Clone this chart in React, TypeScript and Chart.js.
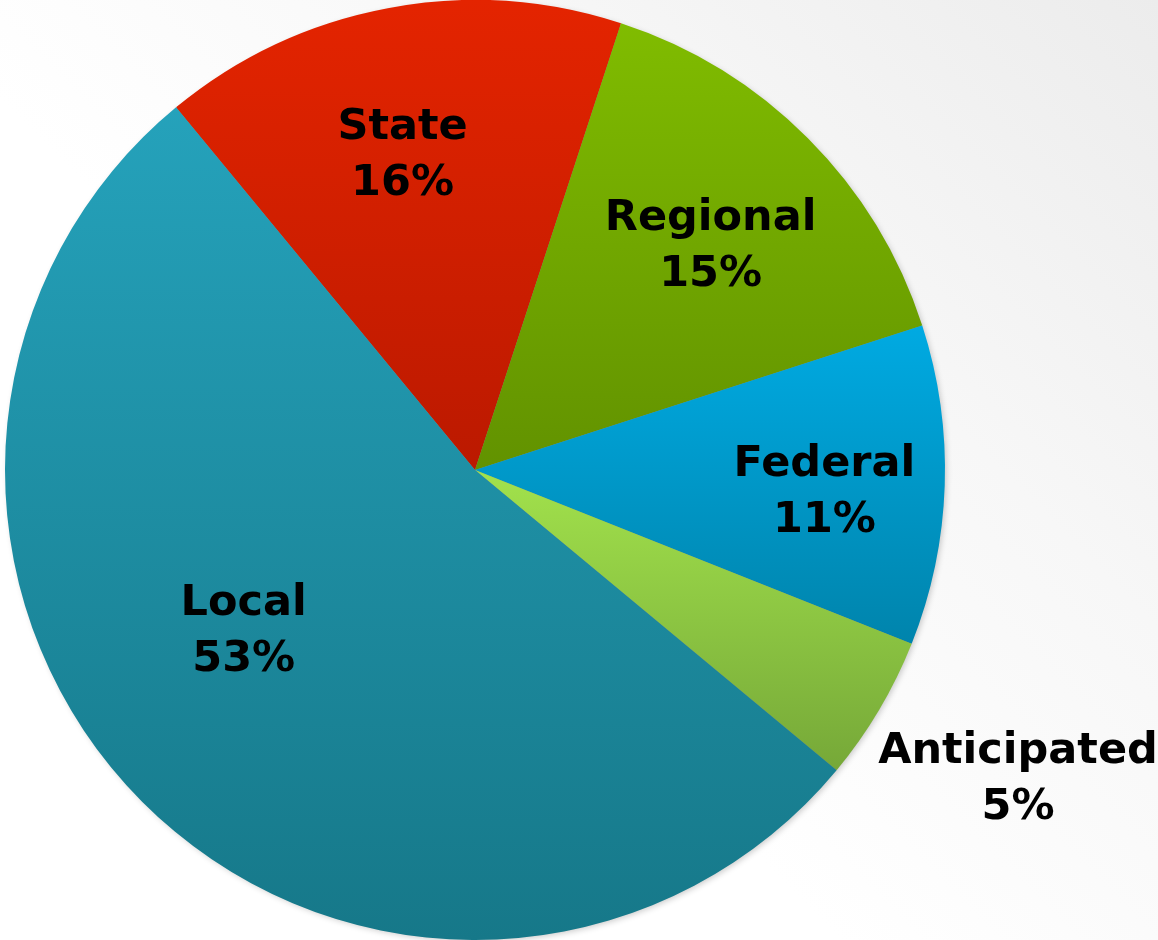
import React, { useEffect, useRef } from "react";
import { Chart, registerables } from "chart.js";

Chart.register(...registerables);

const categories = ["State", "Regional", "Federal", "Anticipated", "Local"];
const shares = [16, 15, 11, 5, 53];
const percentLabels = ["16%", "15%", "11%", "5%", "53%"];
const topColors = ["#e42400", "#80bc00", "#00aae2", "#a2e24c", "#25a2bb"];
const bottomColors = ["#bb1900", "#629200", "#0084ac", "#76a838", "#167889"];
// label placement: fraction of radius, and angular shift in degrees from the slice middle
const labelRadius = [0.685, 0.69, 0.745, 1.33, 0.6];
const labelAngleShift = [-2.3, 1.5, 1.8, -1, 10];

const START_ROTATION = -39.5;

function arcYExtent(cy: number, r: number, a0: number, a1: number) {
  let ymin = cy;
  let ymax = cy;
  const consider = (a: number) => {
    const y = cy + Math.sin(a) * r;
    ymin = Math.min(ymin, y);
    ymax = Math.max(ymax, y);
  };
  consider(a0);
  consider(a1);
  for (let k = -4; k <= 8; k++) {
    const a = Math.PI / 2 + k * Math.PI;
    if (a > a0 && a < a1) consider(a);
  }
  return [ymin, ymax];
}

export default function App() {
  const ref = useRef<HTMLCanvasElement | null>(null);

  useEffect(() => {
    document.body.style.margin = "0";
    const canvas = ref.current!;
    const total = shares.reduce((a, b) => a + b, 0);

    const shadowPlugin = {
      id: "pieShadow",
      beforeDatasetsDraw(chart: any) {
        const arc = chart.getDatasetMeta(0).data[0];
        if (!arc) return;
        const { x, y, outerRadius } = arc;
        const ctx = chart.ctx;
        ctx.save();
        ctx.shadowColor = "rgba(0,0,0,0.22)";
        ctx.shadowBlur = 6;
        ctx.shadowOffsetX = 2;
        ctx.shadowOffsetY = 2;
        ctx.beginPath();
        ctx.arc(x, y, outerRadius - 1, 0, Math.PI * 2);
        ctx.fillStyle = "#888";
        ctx.fill();
        ctx.restore();
      },
    };

    const labelPlugin = {
      id: "sliceLabels",
      afterDatasetsDraw(chart: any) {
        const ctx = chart.ctx;
        const meta = chart.getDatasetMeta(0);
        ctx.save();
        ctx.font = "bold 43px 'DejaVu Sans', Verdana, sans-serif";
        ctx.fillStyle = "#000";
        ctx.textAlign = "center";
        ctx.textBaseline = "middle";
        meta.data.forEach((arc: any, i: number) => {
          const mid = (arc.startAngle + arc.endAngle) / 2 + (labelAngleShift[i] * Math.PI) / 180;
          const d = arc.outerRadius * labelRadius[i];
          const x = arc.x + Math.cos(mid) * d;
          const y = arc.y + Math.sin(mid) * d;
          ctx.fillText(categories[i], x, y - 28);
          ctx.fillText(percentLabels[i], x, y + 28);
        });
        ctx.restore();
      },
    };

    const chart = new Chart(canvas, {
      type: "pie",
      data: {
        labels: categories,
        datasets: [
          {
            data: shares,
            borderWidth: 0,
            backgroundColor: (c: any) => {
              const ch = c.chart;
              const area = ch.chartArea;
              const i = c.dataIndex;
              if (!area || i === undefined) return topColors[i ?? 0];
              const cx = (area.left + area.right) / 2;
              const cy = (area.top + area.bottom) / 2;
              const r = Math.min(area.right - area.left, area.bottom - area.top) / 2;
              const before = shares.slice(0, i).reduce((a, b) => a + b, 0);
              const base = ((START_ROTATION - 90) * Math.PI) / 180;
              const a0 = base + (before / total) * Math.PI * 2;
              const a1 = a0 + (shares[i] / total) * Math.PI * 2;
              const [ymin, ymax] = arcYExtent(cy, r, a0, a1);
              const g = ch.ctx.createLinearGradient(cx, ymin, cx, ymax);
              g.addColorStop(0, topColors[i]);
              g.addColorStop(1, bottomColors[i]);
              return g;
            },
          },
        ],
      },
      options: {
        responsive: false,
        animation: false,
        rotation: START_ROTATION,
        layout: { padding: { left: 0, top: 0, bottom: 0, right: 208 } },
        plugins: {
          legend: { display: false },
          tooltip: { enabled: false },
          title: { display: false },
        },
      },
      plugins: [shadowPlugin, labelPlugin],
    });
    return () => chart.destroy();
  }, []);

  return (
    <div
      style={{
        width: 1158,
        height: 940,
        background: "linear-gradient(225deg, #ececec 0%, #f7f7f7 30%, #ffffff 60%, #ffffff 100%)",
        overflow: "hidden",
      }}
    >
      <canvas ref={ref} width={1158} height={940} style={{ display: "block", width: 1158, height: 940 }} />
    </div>
  );
}
